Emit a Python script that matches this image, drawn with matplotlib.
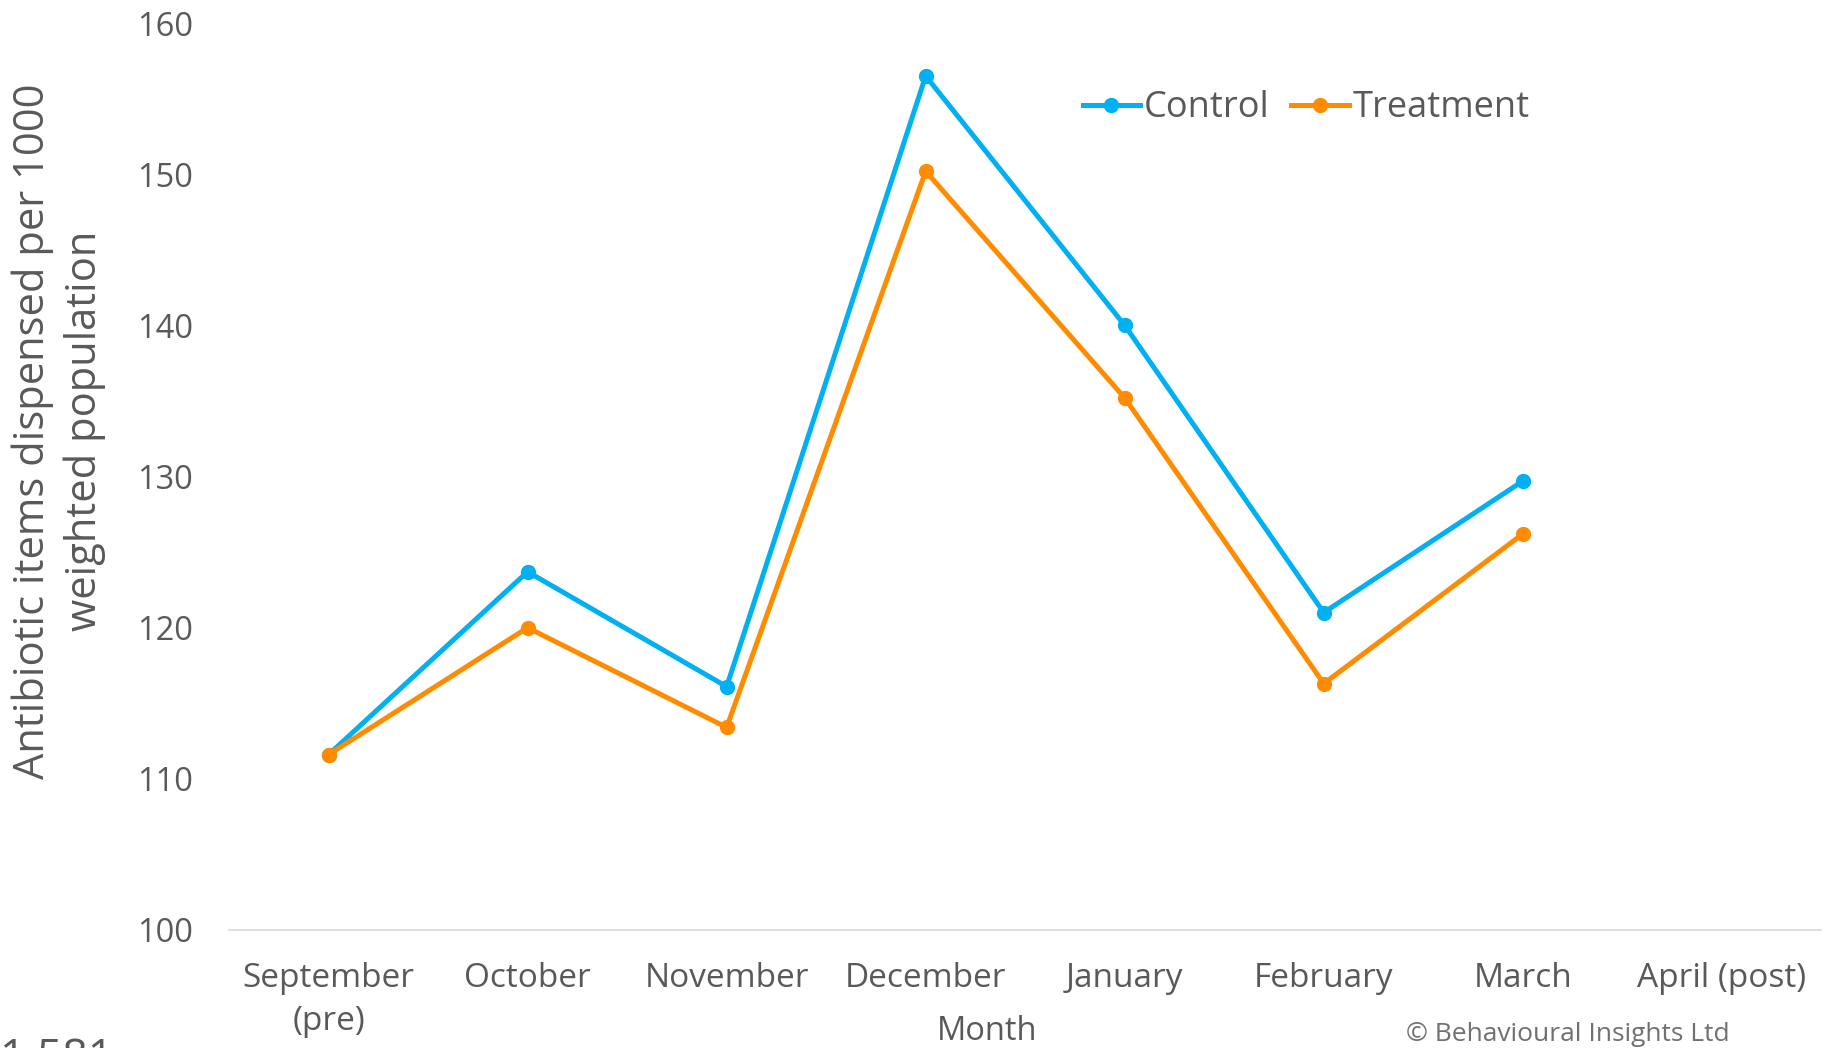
import matplotlib.pyplot as plt
import numpy as np

plt.rcParams['font.family'] = ['Open Sans', 'DejaVu Sans']

months = ['September\n(pre)', 'October', 'November', 'December',
          'January', 'February', 'March', 'April (post)']
control = [111.6, 123.7, 116.1, 156.5, 140.0, 121.0, 129.7]
treatment = [111.6, 120.0, 113.4, 150.2, 135.2, 116.3, 126.2]

grey = '#595959'
x = np.arange(len(months))

fig = plt.figure(figsize=(18.25, 10.48), dpi=100)
ax = fig.add_axes([0.1255, 0.1126, 0.8725, 0.8654])

ax.plot(x[:len(control)], control, color='#00B0F0', lw=3.6, marker='o',
        markersize=10, label='Control')
ax.plot(x[:len(treatment)], treatment, color='#FF8C00', lw=3.6, marker='o',
        markersize=10, label='Treatment')

ax.set_xlim(-0.5, len(months) - 0.5)
ax.set_ylim(100, 160)
ax.set_yticks(np.arange(100, 161, 10))
ax.set_xticks(x)
ax.set_xticklabels(months, linespacing=1.4)
ax.tick_params(axis='both', length=0, labelsize=24, labelcolor=grey)
ax.tick_params(axis='x', pad=23)
ax.tick_params(axis='y', pad=26, labelsize=23.5)

for s in ['top', 'right', 'left']:
    ax.spines[s].set_visible(False)
ax.spines['bottom'].set_color('#d9d9d9')
ax.spines['bottom'].set_linewidth(1.2)

ax.set_ylabel('Antibiotic items dispensed per 1000\nweighted population',
              fontsize=30, color=grey, linespacing=1.3)
ax.yaxis.set_label_coords(-0.077, 0.55)
ax.set_xlabel('Month', fontsize=23.5, color=grey)
ax.xaxis.set_label_coords(0.476, -0.112)
ax.xaxis.label.set_verticalalignment('center')

leg = ax.legend(loc='center left', bbox_to_anchor=(0.536, 0.906), ncol=2,
                frameon=False, fontsize=26, handlelength=1.6,
                handletextpad=0.1, columnspacing=0.6, labelcolor=grey,
                borderpad=0, borderaxespad=0)

fig.text(0.7704, 0.0125, '\u00a9 Behavioural Insights Ltd', fontsize=19,
         color='#707070', va='center')
fig.text(0.0, 0.0105, '1,581', fontsize=32, color=grey, va='top')

fig.savefig('out.png', dpi=100)
